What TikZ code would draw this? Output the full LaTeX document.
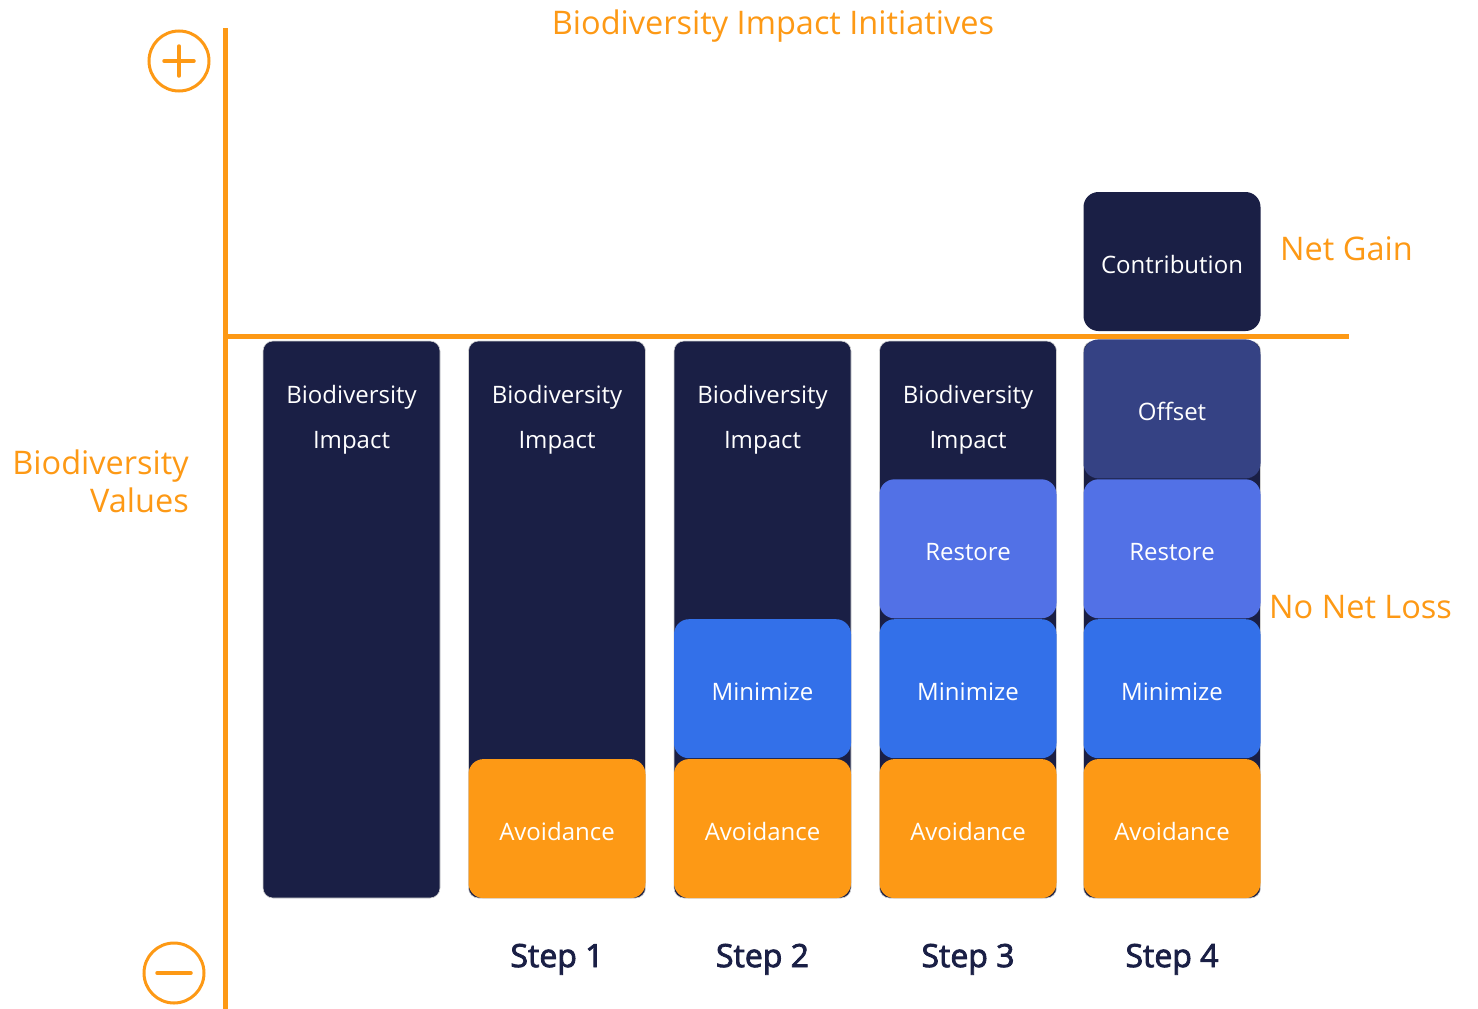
\documentclass[tikz,border=0pt]{standalone}
\usepackage{fontspec}
\setmainfont{Open Sans}
\newfontfamily\stepfont[FakeBold=2.5]{Open Sans}
\usetikzlibrary{positioning}
\definecolor{navy}{HTML}{1A1F45}
\definecolor{orng}{HTML}{FD9915}
\definecolor{offs}{HTML}{354284}
\definecolor{rest}{HTML}{5271E6}
\definecolor{mini}{HTML}{3370E9}
\tikzstyle{axis} = [draw=orng, line width=5pt]
\tikzstyle{sign} = [draw=orng, circle, line width=3pt, minimum size=60pt, inner sep=0pt]
\tikzstyle{signline} = [draw=orng, line width=3.5pt, line cap=round]
\tikzstyle{bar} = [fill=navy, draw=gray!35, line width=0.6pt, rounded corners=10pt,
    minimum width=177pt, minimum height=557pt, inner sep=0pt]
\tikzstyle{blk} = [rounded corners=15pt, minimum width=177pt, minimum height=139pt,
    inner sep=0pt, text height=23.5pt, text depth=0pt, text=white,
    font=\fontsize{24}{28}\selectfont]
\tikzstyle{avoid} = [blk, fill=orng]
\tikzstyle{mini} = [blk, fill=mini]
\tikzstyle{rest} = [blk, fill=rest]
\tikzstyle{offs} = [blk, fill=offs]
\tikzstyle{contr} = [blk, fill=navy]
\tikzstyle{imp} = [below=79pt of #1.north, anchor=center, text=white, align=center,
    font=\fontsize{24}{45}\selectfont]
\tikzstyle{steplbl} = [below=61pt of #1.south, anchor=center, text=navy,
    font=\fontsize{32}{36}\stepfont]
\tikzstyle{olbl} = [text=orng, font=\fontsize{32.5}{38}\selectfont, inner sep=0pt]

\begin{document}
\begin{tikzpicture}[x=1pt, y=-1pt]
\useasboundingbox (0,0) rectangle (1478,1009);

% axes
\coordinate (top) at (225,28);
\coordinate (bot) at (225,1009);
\coordinate (orig) at (225,336);
\coordinate (end) at (1349,336);
\draw[axis] (top) -- (bot);
\draw[axis] (orig) -- (end);

\node[sign] (plus) at (179,61) {};
\draw[signline] ([xshift=-15pt]plus.center) -- ([xshift=15pt]plus.center);
\draw[signline] ([yshift=-15pt]plus.center) -- ([yshift=15pt]plus.center);
\node[sign] (minus) at (174,973) {};
\draw[signline] ([xshift=-17pt]minus.center) -- ([xshift=17pt]minus.center);

% columns
\node[bar] (c0) at (351.5,619.5) {};
\node[bar] (c1) at (557,619.5) {};
\node[bar] (c2) at (762.5,619.5) {};
\node[bar] (c3) at (968,619.5) {};
\node[bar] (c4) at (1172,619.5) {};

\node[imp=c0] (i0) {Biodiversity\\Impact};
\node[imp=c1] (i1) {Biodiversity\\Impact};
\node[imp=c2] (i2) {Biodiversity\\Impact};
\node[imp=c3] (i3) {Biodiversity\\Impact};

% step 1
\node[avoid, anchor=south] (a1) at (c1.south) {Avoidance};

% step 2
\node[avoid, anchor=south] (a2) at (c2.south) {Avoidance};
\node[mini, above=0.5pt of a2] (m2) {Minimize};

% step 3
\node[avoid, anchor=south] (a3) at (c3.south) {Avoidance};
\node[mini, above=0.5pt of a3] (m3) {Minimize};
\node[rest, above=0.5pt of m3] (r3) {Restore};

% step 4
\node[avoid, anchor=south] (a4) at (c4.south) {Avoidance};
\node[mini, above=0.5pt of a4] (m4) {Minimize};
\node[rest, above=0.5pt of m4] (r4) {Restore};
\node[offs, above=0.5pt of r4] (o4) {Offset};
\node[contr, above=8pt of o4] (k4) {Contribution};

\node[steplbl=c1] (s1) {Step 1};
\node[steplbl=c2] (s2) {Step 2};
\node[steplbl=c3] (s3) {Step 3};
\node[steplbl=c4] (s4) {Step 4};

% labels
\node[olbl] (title) at (773,26) {Biodiversity Impact Initiatives};
\node[olbl, align=right, anchor=east] (vals) at (189,481) {Biodiversity\\Values};
\node[olbl, anchor=west] (gain) at (1280,249) {Net Gain};
\node[olbl, anchor=west] (loss) at (1269,607) {No Net Loss};

\end{tikzpicture}
\end{document}
